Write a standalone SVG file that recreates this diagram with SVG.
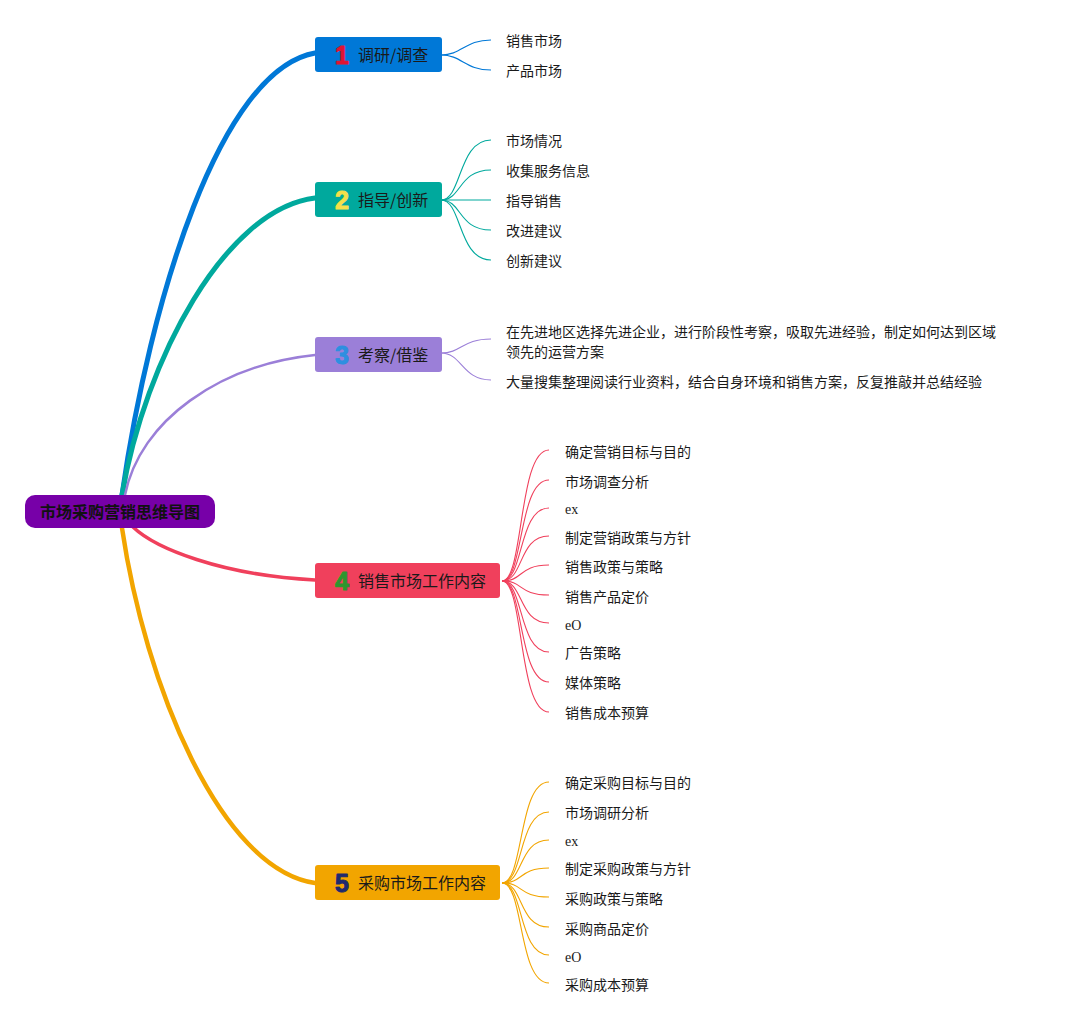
<svg xmlns="http://www.w3.org/2000/svg" width="1066" height="1024" viewBox="0 0 1066 1024">
<style>
.bg{fill:#ffffff}
.cn{font-family:"Noto Sans CJK SC","Liberation Sans",sans-serif;fill:#1a1a1a}
.root{font-size:16px;font-weight:bold;fill:#111}
.btxt{font-size:16px}
.leaf{font-size:14px}
.lat{font-family:"Liberation Serif",serif;font-size:14px;fill:#1a1a1a}
.num{font-family:"Liberation Sans","Open Sans",sans-serif;font-size:25px;font-weight:bold;text-anchor:middle;stroke-width:1;stroke-linejoin:round}
.main{fill:none;stroke-linecap:round}
.sub{fill:none;stroke-width:1.1}
</style>
<rect class="bg" x="0" y="0" width="1066" height="1024"/>
<g id="connectors">
  <path class="main" d="M122,495 C150,300 220,70 315,53" stroke="#0078D7" stroke-width="5"/>
  <path class="main" d="M122,495 C145,360 225,209 315,198" stroke="#00A99D" stroke-width="5"/>
  <path class="main" d="M125,495 C140,420 220,365 315,355" stroke="#9B7FD8" stroke-width="2.5"/>
  <path class="main" d="M133,527 C155,548 220,575 315,580" stroke="#F0405C" stroke-width="3.5"/>
  <path class="main" d="M122,528 C145,684 220,869 315,883" stroke="#F2A500" stroke-width="4.5"/>
  <g stroke="#0078D7" class="sub">
    <path d="M441,55 C462,55 465,40 491,40"/>
    <path d="M441,55 C462,55 465,70 491,70"/>
  </g>
  <g stroke="#00A99D" class="sub">
    <path d="M441,200 C462,200 458,140 491,140"/>
    <path d="M441,200 C462,200 458,170 491,170"/>
    <path d="M441,200 L491,200"/>
    <path d="M441,200 C462,200 458,230 491,230"/>
    <path d="M441,200 C462,200 458,260 491,260"/>
  </g>
  <g stroke="#9B7FD8" class="sub">
    <path d="M441,353 C462,353 462,339 491,339"/>
    <path d="M441,353 C462,353 462,380 491,380"/>
  </g>
  <g stroke="#F0405C" class="sub">
    <path d="M502,581 C524,581 518,450 549,450"/>
    <path d="M502,581 C524,581 518,480 549,480"/>
    <path d="M502,581 C524,581 518,508 549,508"/>
    <path d="M502,581 C524,581 518,536 549,536"/>
    <path d="M502,581 C524,581 518,565 549,565"/>
    <path d="M502,581 C524,581 518,595 549,595"/>
    <path d="M502,581 C524,581 518,623 549,623"/>
    <path d="M502,581 C524,581 518,652 549,652"/>
    <path d="M502,581 C524,581 518,682 549,682"/>
    <path d="M502,581 C524,581 518,712 549,712"/>
  </g>
  <g stroke="#F2A500" class="sub">
    <path d="M502,883 C524,883 518,782 549,782"/>
    <path d="M502,883 C524,883 518,812 549,812"/>
    <path d="M502,883 C524,883 518,840 549,840"/>
    <path d="M502,883 C524,883 518,868 549,868"/>
    <path d="M502,883 C524,883 518,897 549,897"/>
    <path d="M502,883 C524,883 518,927 549,927"/>
    <path d="M502,883 C524,883 518,955 549,955"/>
    <path d="M502,883 C524,883 518,983 549,983"/>
  </g>
</g>
<g id="root">
  <rect x="25" y="495" width="190" height="33" rx="10" fill="#7700A8"/>
  <text class="cn root" x="120" y="518" text-anchor="middle">市场采购营销思维导图</text>
</g>
<g id="b1">
  <rect x="315" y="37" width="127" height="35" rx="3" fill="#0078D7"/>
  <text class="num" x="342" y="64" fill="#E01432" stroke="#E01432">1</text>
  <text class="cn btxt" x="358" y="61">调研/调查</text>
</g>
<g id="b1-leaves">
  <text class="cn leaf" x="506" y="46">销售市场</text>
  <text class="cn leaf" x="506" y="76">产品市场</text>
</g>
<g id="b2">
  <rect x="315" y="182" width="127" height="35" rx="3" fill="#00A99D"/>
  <text class="num" x="342" y="209" fill="#F5E04A" stroke="#F5E04A">2</text>
  <text class="cn btxt" x="358" y="206">指导/创新</text>
</g>
<g id="b2-leaves">
  <text class="cn leaf" x="506" y="146">市场情况</text>
  <text class="cn leaf" x="506" y="176">收集服务信息</text>
  <text class="cn leaf" x="506" y="206">指导销售</text>
  <text class="cn leaf" x="506" y="236">改进建议</text>
  <text class="cn leaf" x="506" y="266">创新建议</text>
</g>
<g id="b3">
  <rect x="315" y="337" width="127" height="35" rx="3" fill="#9B7FD8"/>
  <text class="num" x="342" y="364" fill="#2E8FE0" stroke="#2E8FE0">3</text>
  <text class="cn btxt" x="358" y="361">考察/借鉴</text>
</g>
<g id="b3-leaves">
  <text class="cn leaf" x="506" y="337">在先进地区选择先进企业，进行阶段性考察，吸取先进经验，制定如何达到区域</text>
  <text class="cn leaf" x="506" y="357">领先的运营方案</text>
  <text class="cn leaf" x="506" y="387">大量搜集整理阅读行业资料，结合自身环境和销售方案，反复推敲并总结经验</text>
</g>
<g id="b4">
  <rect x="315" y="563" width="185" height="35" rx="3" fill="#F0405C"/>
  <text class="num" x="342" y="590" fill="#2E962E" stroke="#2E962E">4</text>
  <text class="cn btxt" x="358" y="587">销售市场工作内容</text>
</g>
<g id="b4-leaves">
  <text class="cn leaf" x="565" y="457">确定营销目标与目的</text>
  <text class="cn leaf" x="565" y="487">市场调查分析</text>
  <text class="lat" x="565" y="514">ex</text>
  <text class="cn leaf" x="565" y="543">制定营销政策与方针</text>
  <text class="cn leaf" x="565" y="572">销售政策与策略</text>
  <text class="cn leaf" x="565" y="602">销售产品定价</text>
  <text class="lat" x="565" y="629.5">eO</text>
  <text class="cn leaf" x="565" y="658">广告策略</text>
  <text class="cn leaf" x="565" y="688">媒体策略</text>
  <text class="cn leaf" x="565" y="718">销售成本预算</text>
</g>
<g id="b5">
  <rect x="315" y="865" width="185" height="35" rx="3" fill="#F2A500"/>
  <text class="num" x="342" y="892" fill="#1E2A6E" stroke="#1E2A6E">5</text>
  <text class="cn btxt" x="358" y="889">采购市场工作内容</text>
</g>
<g id="b5-leaves">
  <text class="cn leaf" x="565" y="788">确定采购目标与目的</text>
  <text class="cn leaf" x="565" y="818">市场调研分析</text>
  <text class="lat" x="565" y="846">ex</text>
  <text class="cn leaf" x="565" y="874">制定采购政策与方针</text>
  <text class="cn leaf" x="565" y="904">采购政策与策略</text>
  <text class="cn leaf" x="565" y="934">采购商品定价</text>
  <text class="lat" x="565" y="961.5">eO</text>
  <text class="cn leaf" x="565" y="990">采购成本预算</text>
</g>
</svg>
